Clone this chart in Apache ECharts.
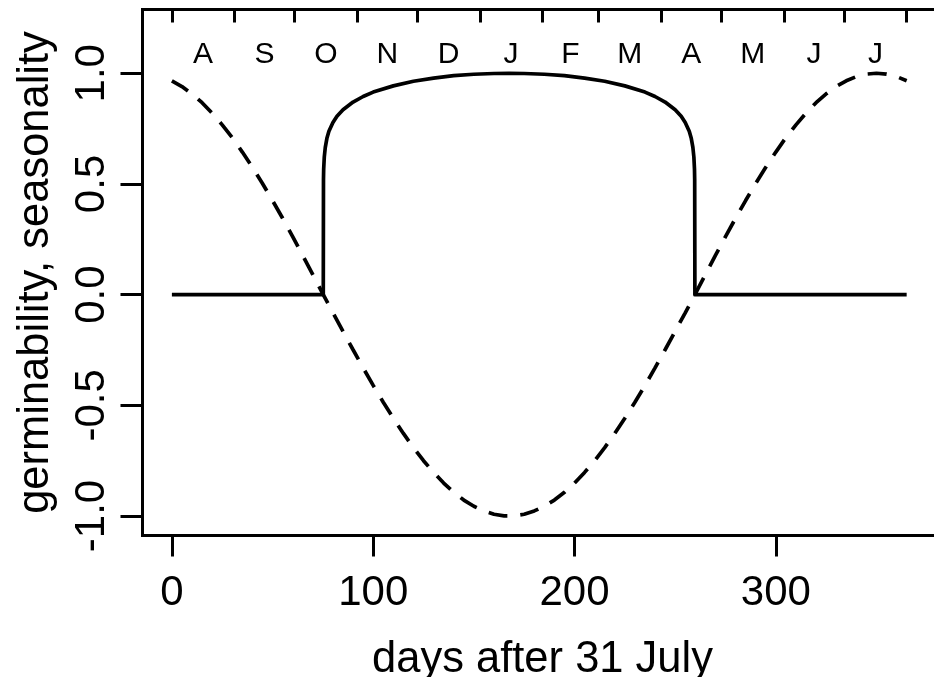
<!DOCTYPE html>
<html>
<head>
<meta charset="utf-8">
<script src="https://cdn.jsdelivr.net/npm/echarts@6/dist/echarts.min.js"></script>
<style>
html,body{margin:0;padding:0;background:#fff;}
#c{width:934px;height:677px;}
</style>
</head>
<body>
<div id="c"></div>
<script>
// ---- data ----
const seasonDays = [0,5,10,15,20,25,30,35,40,45,50,55,60,65,70,75,75.2,80,85,90,95,100,105,110,115,120,125,130,135,140,145,150,155,160,165,170,175,180,185,190,195,200,205,210,215,220,225,230,235,240,245,250,255,259.8,260,265,270,275,280,285,290,295,300,305,310,315,320,325,330,335,340,345,350,355,360,365];
const seasonVals = [0.966,0.940,0.907,0.867,0.820,0.767,0.709,0.644,0.575,0.502,0.425,0.345,0.262,0.177,0.090,0.003,0,-0.082,-0.166,-0.249,-0.331,-0.410,-0.486,-0.558,-0.627,-0.691,-0.750,-0.803,-0.851,-0.893,-0.928,-0.956,-0.977,-0.992,-0.999,-0.999,-0.992,-0.977,-0.956,-0.928,-0.893,-0.851,-0.803,-0.750,-0.691,-0.627,-0.558,-0.486,-0.410,-0.331,-0.249,-0.166,-0.082,0,0.003,0.090,0.177,0.262,0.345,0.425,0.502,0.575,0.644,0.709,0.767,0.820,0.867,0.907,0.940,0.966,0.985,0.996,1.000,0.996,0.985,0.966];

const germDays = [0,75.2,75.3,75.4,75.7,76.2,77,78,80,82,85,90,95,100,110,120,130,140,150,160,167.5,175,185,195,205,215,225,235,240,245,250,253,255,257,258,258.8,259.3,259.6,259.7,259.8,365];
const germVals = [0,0,0.52,0.567,0.621,0.665,0.706,0.738,0.778,0.806,0.835,0.870,0.895,0.915,0.943,0.964,0.978,0.989,0.9955,0.999,1,0.999,0.9955,0.989,0.978,0.964,0.943,0.915,0.895,0.870,0.835,0.806,0.778,0.738,0.706,0.665,0.621,0.567,0.52,0,0];

const xTicks = [0,100,200,300];
const yTicks = [-1,-0.5,0,0.5,1];
const monthBounds = [0,31,61,92,122,153,184,212,243,273,304,334,365];
const monthMids = [15.5,46,76.5,107,137.5,168.5,198,227.5,258,288.5,319,349.5];
const monthLabels = ['A','S','O','N','D','J','F','M','A','M','J','J'];

const xLabel = 'days after 31 July';
const yLabel = 'germinability, seasonality';

// ---- chart ----
const FONT = '"Liberation Sans", Arial, Helvetica, sans-serif';
const X_MIN = -14.6, X_MAX = 382.8;
const chart = echarts.init(document.getElementById('c'), null, {renderer:'canvas'});

const pair = (xs, ys) => xs.map((x,i) => [x, ys[i]]);

chart.setOption({
  animation: false,
  backgroundColor: '#fff',
  grid: {
    left: 142.5, top: 9.5, width: 800, height: 526,
    outerBoundsMode: 'none', containLabel: false,
    show: true, borderColor: '#000', borderWidth: 3, backgroundColor: 'transparent'
  },
  xAxis: [
    {
      type: 'value', position: 'bottom', min: X_MIN, max: X_MAX,
      splitLine: {show: false},
      axisLine: {show: false, onZero: false},
      axisTick: {show: true, length: 21, lineStyle: {color: '#000', width: 3}, customValues: xTicks},
      axisLabel: {show: true, customValues: xTicks, color: '#000', fontSize: 42, fontFamily: FONT, margin: 37,
        formatter: v => String(v)},
      name: xLabel, nameLocation: 'middle', nameGap: 102,
      nameTextStyle: {color: '#000', fontSize: 43.5, fontFamily: FONT}
    },
    {
      type: 'value', position: 'top', min: X_MIN, max: X_MAX,
      splitLine: {show: false},
      axisLine: {show: false, onZero: false},
      axisTick: {show: true, inside: true, length: 13, lineStyle: {color: '#000', width: 3}, customValues: monthBounds},
      axisLabel: {show: true, inside: true, customValues: monthMids, color: '#000', fontSize: 30, fontFamily: FONT, margin: 30,
        formatter: v => { const i = monthMids.indexOf(v); return i >= 0 ? monthLabels[i] : ''; }}
    }
  ],
  yAxis: {
    type: 'value', min: -1.088, max: 1.288,
    splitLine: {show: false},
    axisLine: {show: false, onZero: false},
    axisTick: {show: true, length: 22, lineStyle: {color: '#000', width: 3}, customValues: yTicks},
    axisLabel: {show: true, customValues: yTicks, rotate: 90, color: '#000', fontSize: 42, fontFamily: FONT, margin: 29,
      formatter: v => v.toFixed(1)},
    name: yLabel, nameLocation: 'middle', nameRotate: 90, nameGap: 85,
    nameTextStyle: {color: '#000', fontSize: 43.5, fontFamily: FONT}
  },
  series: [
    {
      type: 'line', xAxisIndex: 0, data: pair(seasonDays, seasonVals),
      showSymbol: false, smooth: false, clip: true,
      lineStyle: {color: '#000', width: 3.7, type: [19, 13], cap: 'butt'}
    },
    {
      type: 'line', xAxisIndex: 0, data: pair(germDays, germVals),
      showSymbol: false, smooth: false, clip: true,
      lineStyle: {color: '#000', width: 3.7, type: 'solid', cap: 'butt', join: 'round'}
    }
  ]
});
</script>
</body>
</html>
